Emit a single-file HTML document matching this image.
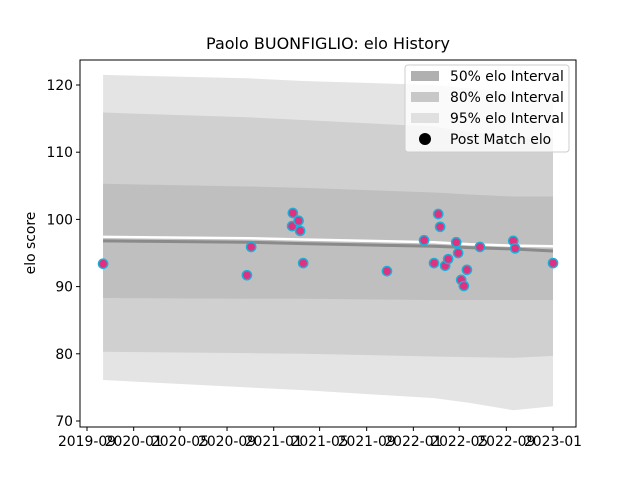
<!DOCTYPE html>
<html><head><meta charset="utf-8"><style>
body{margin:0;background:#fff;}
svg{display:block;font-family:"DejaVu Sans","Liberation Sans",sans-serif;}
</style></head><body>
<svg id="chart" width="640" height="480">
<text x="328" y="49" font-size="16" text-anchor="middle">Paolo BUONFIGLIO: elo History</text>
<g id="plot"></g>
</svg>
<script>
// Data (day offsets from 2019-09-01)
const pointDays=[42,418,429,538,536,553,557,565,784,881,907,918,923,936,944,965,970,978,985,993,1027,1114,1119,1218];
const pointElo=[93.4,91.7,95.9,100.95,99.0,99.8,98.3,93.5,92.3,96.9,93.5,100.8,98.9,93.1,94.1,96.6,95.0,91.0,90.1,92.5,95.9,96.8,95.7,93.5];
const bandDays=[42,418,565,907,1000,1114,1218];
const u95=[121.5,121.0,120.6,120.0,119.5,118.8,118.2];
const l95=[76.1,75.0,74.6,73.4,72.7,71.6,72.2];
const u80=[115.9,115.2,114.8,113.8,113.0,112.3,112.1];
const l80=[80.3,80.1,80.0,79.6,79.5,79.4,79.7];
const u50=[105.3,104.9,104.7,104.0,103.7,103.4,103.4];
const l50=[88.3,88.2,88.2,88.0,88.0,88.0,88.0];
const meanElo=[96.8,96.6,96.4,96.0,95.8,95.6,95.3];
const whiteElo=[97.4,97.2,97.0,96.6,96.3,96.1,96.0];
const yTicks=[70,80,90,100,110,120];
const xTickLabels=['2019-09','2020-01','2020-05','2020-09','2021-01','2021-05','2021-09','2022-01','2022-05','2022-09','2023-01'];
const xTickDays=[0,122,243,366,488,608,731,853,973,1096,1218];

const L=80,R=576,T=60,B=427;
const xs=d=>87+d*466/1218;
const ys=v=>85+(120-v)*6.72;
const NS='http://www.w3.org/2000/svg';
const g=document.getElementById('plot');
function mk(t,a){const e=document.createElementNS(NS,t);for(const k in a)e.setAttribute(k,a[k]);g.appendChild(e);return e;}

function band(up,lo,fill,name){
  let pts=bandDays.map((d,i)=>xs(d)+','+ys(up[i]));
  for(let i=bandDays.length-1;i>=0;i--)pts.push(xs(bandDays[i])+','+ys(lo[i]));
  const p=mk('polygon',{points:pts.join(' '),fill:fill});
  
  
}
band(u95,l95,'#e4e4e4','band-95');
band(u80,l80,'#d0d0d0','band-80');
band(u50,l50,'#bfbfbf','band-50');
function line(vals,col,w,name){
  const p=mk('polyline',{points:bandDays.map((d,i)=>xs(d)+','+ys(vals[i])).join(' '),fill:'none',stroke:col,'stroke-width':w});
  
  
}
line(meanElo,'#8a8a8a',3,'mean-elo-line');
line(whiteElo,'#ffffff',2.5,'expected-elo-line');

pointDays.forEach((d,i)=>{
  const c=mk('circle',{cx:xs(d),cy:ys(pointElo[i]),r:4.6,fill:'#e0307f',stroke:'#1ab0d8','stroke-width':1.5});
  
  
});

const fr=mk('rect',{x:L,y:T,width:R-L,height:B-T,fill:'none',stroke:'#000','stroke-width':1});



yTicks.forEach(v=>{
  const y=ys(v);
  const t=mk('line',{x1:L-4,x2:L,y1:y,y2:y,stroke:'#000'});
  
  
  const tx=mk('text',{x:L-7,y:y+5,'font-size':13.9,'text-anchor':'end'});
  tx.textContent=v;
  
  
});
xTickDays.forEach((d,i)=>{
  const x=xs(d);
  const t=mk('line',{x1:x,x2:x,y1:B,y2:B+4,stroke:'#000'});
  
  
  const tx=mk('text',{x:x,y:B+19,'font-size':13.9,'text-anchor':'middle'});
  tx.textContent=xTickLabels[i];
  
  
});
const yl=mk('text',{x:35,y:243,'font-size':13.9,'text-anchor':'middle',transform:'rotate(-90 35 243)'});
yl.textContent='elo score';



const lg=mk('rect',{x:405,y:65,width:164,height:87,rx:3,fill:'#fff','fill-opacity':0.8,stroke:'#ccc'});


const items=[['#b0b0b0','50% elo Interval'],['#c8c8c8','80% elo Interval'],['#e0e0e0','95% elo Interval']];
items.forEach((it,i)=>{
  const y=71+i*21;
  const r=mk('rect',{x:411,y:y,width:28,height:10,fill:it[0]});
  
  
  const tx=mk('text',{x:450,y:y+10,'font-size':13.9});
  tx.textContent=it[1];
  
  
});
const dc=mk('circle',{cx:425,cy:139,r:6,fill:'#000'});


const dt=mk('text',{x:450,y:144,'font-size':13.9});
dt.textContent='Post Match elo';


</script>
</body></html>
